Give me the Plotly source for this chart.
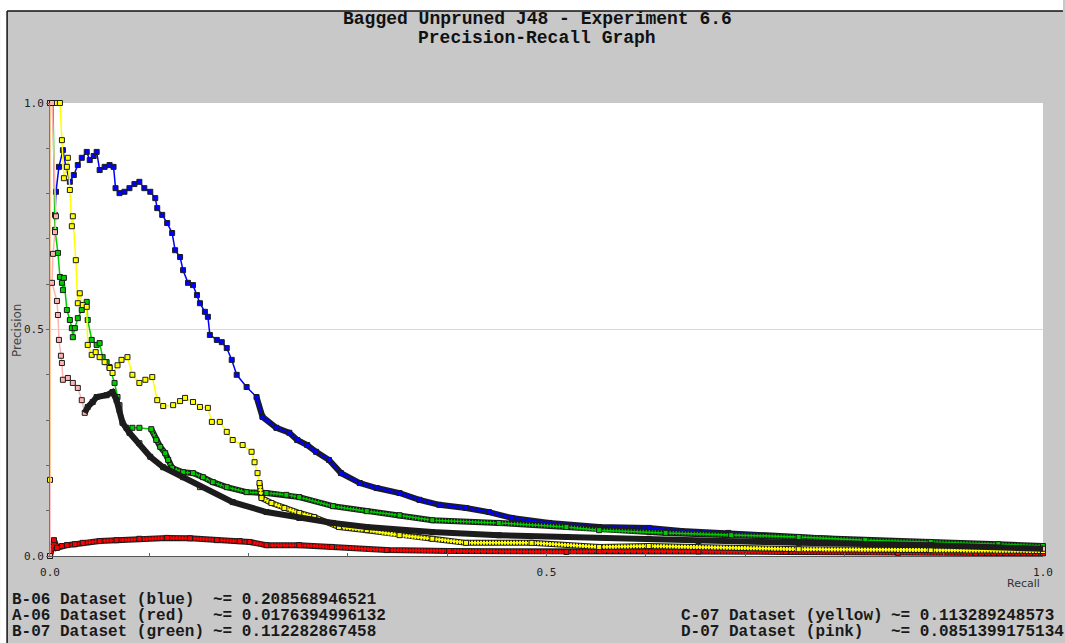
import plotly.graph_objects as go

# ---------------- data ----------------
blue_recall = [0.005, 0.006, 0.009, 0.013, 0.016, 0.020, 0.024, 0.028, 0.032, 0.037, 0.040, 0.044, 0.047,
               0.050, 0.055, 0.060, 0.064, 0.066, 0.070, 0.075, 0.080, 0.085, 0.090, 0.095, 0.101, 0.106,
               0.108, 0.113, 0.118, 0.123, 0.126, 0.131, 0.134, 0.139, 0.144, 0.148, 0.151, 0.156, 0.159,
               0.161, 0.168, 0.173, 0.178, 0.183, 0.188, 0.198, 0.208, 0.214, 0.228, 0.241, 0.249, 0.259,
               0.268, 0.281, 0.293, 0.312, 0.329, 0.352, 0.372, 0.392, 0.419, 0.442, 0.465, 0.503, 0.553,
               0.603, 0.636, 0.683, 0.754, 0.824, 0.894, 0.955, 1.000]
blue_precision = [0.753, 0.804, 0.859, 0.896, 0.859, 0.826, 0.841, 0.863, 0.879, 0.892, 0.874, 0.883, 0.892,
                  0.852, 0.859, 0.863, 0.859, 0.812, 0.801, 0.804, 0.812, 0.821, 0.826, 0.812, 0.804, 0.790,
                  0.768, 0.753, 0.735, 0.713, 0.675, 0.660, 0.631, 0.603, 0.598, 0.576, 0.558, 0.539, 0.528,
                  0.488, 0.477, 0.472, 0.459, 0.433, 0.400, 0.373, 0.351, 0.307, 0.283, 0.272, 0.256, 0.245,
                  0.230, 0.212, 0.183, 0.161, 0.150, 0.139, 0.124, 0.113, 0.106, 0.097, 0.084, 0.073, 0.064,
                  0.062, 0.055, 0.051, 0.042, 0.033, 0.029, 0.024, 0.020]

red_recall = [0.000, 0.004, 0.007, 0.012, 0.017, 0.025, 0.033, 0.050, 0.067, 0.090, 0.118, 0.141, 0.168,
              0.191, 0.201, 0.218, 0.251, 0.284, 0.339, 0.402, 0.520, 0.553, 0.653, 0.741, 0.854, 0.932, 1.000]
red_precision = [0.000, 0.035, 0.018, 0.022, 0.024, 0.026, 0.029, 0.033, 0.035, 0.038, 0.040, 0.039, 0.035,
                 0.033, 0.031, 0.024, 0.024, 0.020, 0.013, 0.011, 0.009, 0.011, 0.010, 0.009, 0.007, 0.006, 0.006]

green_recall = [0.003, 0.005, 0.008, 0.010, 0.012, 0.013, 0.014, 0.017, 0.020, 0.022, 0.023, 0.025, 0.028,
                0.032, 0.037, 0.038, 0.042, 0.047, 0.050, 0.053, 0.057, 0.060, 0.065, 0.068, 0.070, 0.077,
                0.083, 0.090, 0.102, 0.107, 0.111, 0.116, 0.119, 0.123, 0.134, 0.144, 0.154, 0.164, 0.178,
                0.198, 0.218, 0.238, 0.251, 0.285, 0.319, 0.352, 0.385, 0.452, 0.520, 0.553, 0.620, 0.686,
                0.754, 0.821, 0.887, 0.955, 1.000]
green_precision = [1.000, 0.720, 0.669, 0.616, 0.603, 0.587, 0.614, 0.543, 0.521, 0.503, 0.483, 0.503, 0.525,
                   0.543, 0.561, 0.521, 0.477, 0.466, 0.470, 0.439, 0.428, 0.417, 0.382, 0.351, 0.333, 0.283,
                   0.283, 0.283, 0.280, 0.256, 0.241, 0.227, 0.212, 0.194, 0.185, 0.183, 0.174, 0.163, 0.152,
                   0.141, 0.139, 0.135, 0.130, 0.110, 0.099, 0.090, 0.079, 0.073, 0.064, 0.057, 0.051, 0.046,
                   0.042, 0.035, 0.031, 0.026, 0.022]

yellow_recall = [0.000, 0.000, 0.005, 0.010, 0.012, 0.014, 0.017, 0.018, 0.020, 0.022, 0.023, 0.026, 0.028,
                 0.030, 0.033, 0.037, 0.038, 0.042, 0.046, 0.050, 0.055, 0.060, 0.063, 0.068, 0.072, 0.078,
                 0.083, 0.090, 0.096, 0.103, 0.108, 0.114, 0.124, 0.131, 0.136, 0.144, 0.151, 0.159, 0.163,
                 0.171, 0.178, 0.184, 0.194, 0.203, 0.206, 0.209, 0.211, 0.213, 0.223, 0.236, 0.251, 0.266,
                 0.291, 0.319, 0.352, 0.385, 0.419, 0.485, 0.553, 0.603, 0.754, 0.887, 1.000]
yellow_precision = [0.168, 1.000, 1.000, 1.000, 0.918, 0.834, 0.859, 0.879, 0.808, 0.728, 0.750, 0.653, 0.558,
                    0.580, 0.554, 0.550, 0.466, 0.444, 0.450, 0.439, 0.428, 0.415, 0.404, 0.421, 0.433, 0.439,
                    0.400, 0.382, 0.389, 0.395, 0.344, 0.331, 0.333, 0.342, 0.349, 0.340, 0.329, 0.327, 0.296,
                    0.296, 0.274, 0.256, 0.245, 0.230, 0.207, 0.183, 0.161, 0.128, 0.117, 0.106, 0.095, 0.086,
                    0.064, 0.057, 0.046, 0.038, 0.029, 0.029, 0.020, 0.022, 0.015, 0.013, 0.011]

pink_recall = [0.000, 0.000, 0.002, 0.006, 0.005, 0.003, 0.002, 0.007, 0.008, 0.009, 0.011, 0.012, 0.013,
               0.018, 0.023, 0.028, 0.032, 0.035, 0.038, 0.043, 0.047, 0.057, 0.063, 0.067, 0.070, 0.073,
               0.080, 0.090, 0.101, 0.114, 0.134, 0.151, 0.184, 0.218, 0.251, 0.285, 0.319, 0.385, 0.452,
               0.520, 0.603, 0.653, 0.754, 0.887, 1.000]
pink_precision = [0.000, 1.000, 1.000, 0.750, 0.715, 0.667, 0.603, 0.563, 0.532, 0.477, 0.442, 0.426, 0.389,
                  0.393, 0.382, 0.371, 0.344, 0.316, 0.329, 0.340, 0.351, 0.355, 0.362, 0.344, 0.322, 0.294,
                  0.272, 0.249, 0.219, 0.196, 0.174, 0.152, 0.119, 0.097, 0.084, 0.073, 0.064, 0.053, 0.046,
                  0.042, 0.038, 0.033, 0.029, 0.024, 0.016]

series_names = ["B-06 Dataset (blue)", "A-06 Dataset (red)", "B-07 Dataset (green)",
                "C-07 Dataset (yellow)", "D-07 Dataset (pink)"]
series_scores = ["~= 0.208568946521", "~= 0.0176394996132", "~= 0.112282867458",
                 "~= 0.113289248573", "~= 0.0851399175134"]

x_tick_vals = [0.0, 0.5, 1.0]
x_tick_text = ["0.0", "0.5", "1.0"]
y_tick_vals = [0.0, 0.5, 1.0]
y_tick_text = ["0.0", "0.5", "1.0"]

title_lines = ["Bagged Unpruned J48 - Experiment 6.6", "Precision-Recall Graph"]
x_label = "Recall"
y_label = "Precision"

# ---------------- styling ----------------
# recall, precision, colour, band start (recall), stripe colour, stripe dash, band drawn on top
series = [
    (blue_recall, blue_precision, "#0000ff", 0.20, "#0000ff", "1px,2px", False),
    (red_recall, red_precision, "#ff0000", 0.0, "#ff0000", "2px,1px", False),
    (green_recall, green_precision, "#00cc00", 0.10, "#00cc00", "1px,2px", False),
    (yellow_recall, yellow_precision, "#ffff00", 0.21, "#ffff00", "2px,1px", False),
    (pink_recall, pink_precision, "#ffb4b4", 0.035, None, None, True),
]
EDGE = "#1c1c1c"

fig = go.Figure()
for (rx, py, col, cut, stripe, dash, on_top), name in zip(series, series_names):
    bx = [a for a in rx if a >= cut]
    by = [b for a, b in zip(rx, py) if a >= cut]
    band = [go.Scatter(x=bx, y=by, mode="lines", hoverinfo="skip",
                       line=dict(color=EDGE, width=6))]
    if stripe:
        band.append(go.Scatter(x=bx, y=by, mode="lines", hoverinfo="skip",
                               line=dict(color=stripe, width=4, dash=dash)))
    main = go.Scatter(x=rx, y=py, mode="lines+markers", name=name, cliponaxis=False,
                      line=dict(color=col, width=1.5),
                      marker=dict(symbol="square", size=5, color=col,
                                  line=dict(color=EDGE, width=1)))
    traces = [main] + band if on_top else band + [main]
    for t in traces:
        fig.add_trace(t)

L, T, W, H = 50, 103, 995, 453   # plot area in pixels


def px(xp):
    return (xp - L) / W


def py_(yp):
    return (T + H - yp) / H


mono = "Liberation Mono"
ann = []
for i, line in enumerate(title_lines):
    ann.append(dict(text="<b>%s</b>" % line, x=px(538), y=py_(19 + 19 * i), xref="paper", yref="paper",
                    showarrow=False, xanchor="center", yanchor="middle",
                    font=dict(family=mono, size=18, color="#111")))
rows_left = [600, 616, 632]
for i in range(3):
    ann.append(dict(text="<b>%s</b>" % series_names[i], x=px(10), y=py_(rows_left[i]), xref="paper",
                    yref="paper", showarrow=False, xanchor="left", yanchor="middle",
                    font=dict(family=mono, size=16, color="#1a1a1a")))
    ann.append(dict(text="<b>%s</b>" % series_scores[i], x=px(211), y=py_(rows_left[i]), xref="paper",
                    yref="paper", showarrow=False, xanchor="left", yanchor="middle",
                    font=dict(family=mono, size=16, color="#1a1a1a")))
rows_right = [616, 632]
for j, i in enumerate([3, 4]):
    ann.append(dict(text="<b>%s</b>" % series_names[i], x=px(680), y=py_(rows_right[j]), xref="paper",
                    yref="paper", showarrow=False, xanchor="left", yanchor="middle",
                    font=dict(family=mono, size=16, color="#1a1a1a")))
    ann.append(dict(text="<b>%s</b>" % series_scores[i], x=px(891), y=py_(rows_right[j]), xref="paper",
                    yref="paper", showarrow=False, xanchor="left", yanchor="middle",
                    font=dict(family=mono, size=16, color="#1a1a1a")))
ann.append(dict(text=x_label, x=px(1025), y=py_(583), xref="paper", yref="paper", showarrow=False,
                xanchor="center", yanchor="middle", font=dict(family="DejaVu Sans", size=11, color="#333")))
ann.append(dict(text=y_label, x=px(17), y=py_(330), xref="paper", yref="paper", showarrow=False,
                textangle=-90, xanchor="center", yanchor="middle",
                font=dict(family="DejaVu Sans", size=12, color="#444")))

shapes = [
    dict(type="rect", xref="paper", yref="paper", x0=px(0), x1=px(7), y0=py_(643), y1=py_(0),
         fillcolor="white", line=dict(width=0), layer="below"),
    dict(type="rect", xref="paper", yref="paper", x0=px(0), x1=px(1065), y0=py_(11), y1=py_(0),
         fillcolor="white", line=dict(width=0), layer="below"),
    dict(type="line", xref="paper", yref="paper", x0=px(7), x1=px(1065), y0=py_(11), y1=py_(11),
         line=dict(color="#111", width=1.5)),
    dict(type="line", xref="paper", yref="paper", x0=px(7), x1=px(7), y0=py_(11), y1=py_(643),
         line=dict(color="#111", width=1.5)),
]

fig.update_layout(
    width=1065, height=643, margin=dict(l=L, r=1065 - L - W, t=T, b=643 - T - H),
    paper_bgcolor="#c8c8c8", plot_bgcolor="white", showlegend=False,
    annotations=ann, shapes=shapes,
    xaxis=dict(range=[0, 1], tickmode="array", tickvals=x_tick_vals, ticktext=x_tick_text,
               ticks="inside", ticklen=3, tickcolor="#666", showline=True, linecolor="#555", linewidth=1,
               showgrid=False, zeroline=False, ticklabelstandoff=6,
               tickfont=dict(family="DejaVu Sans Mono", size=11, color="#222"),
               minor=dict(tickmode="linear", tick0=0, dtick=0.1, ticks="inside", ticklen=3,
                          tickcolor="#666", showgrid=False)),
    yaxis=dict(range=[0, 1], tickmode="array", tickvals=y_tick_vals, ticktext=y_tick_text,
               ticks="outside", ticklen=3, tickcolor="#666", showline=True, linecolor="#777", linewidth=1,
               showgrid=True, gridcolor="#d8d8d8", gridwidth=1, zeroline=False,
               tickfont=dict(family="DejaVu Sans Mono", size=11, color="#222"),
               minor=dict(tickmode="linear", tick0=0, dtick=0.1, ticks="outside", ticklen=3,
                          tickcolor="#666", showgrid=False)),
)

fig.write_html("out.html")
